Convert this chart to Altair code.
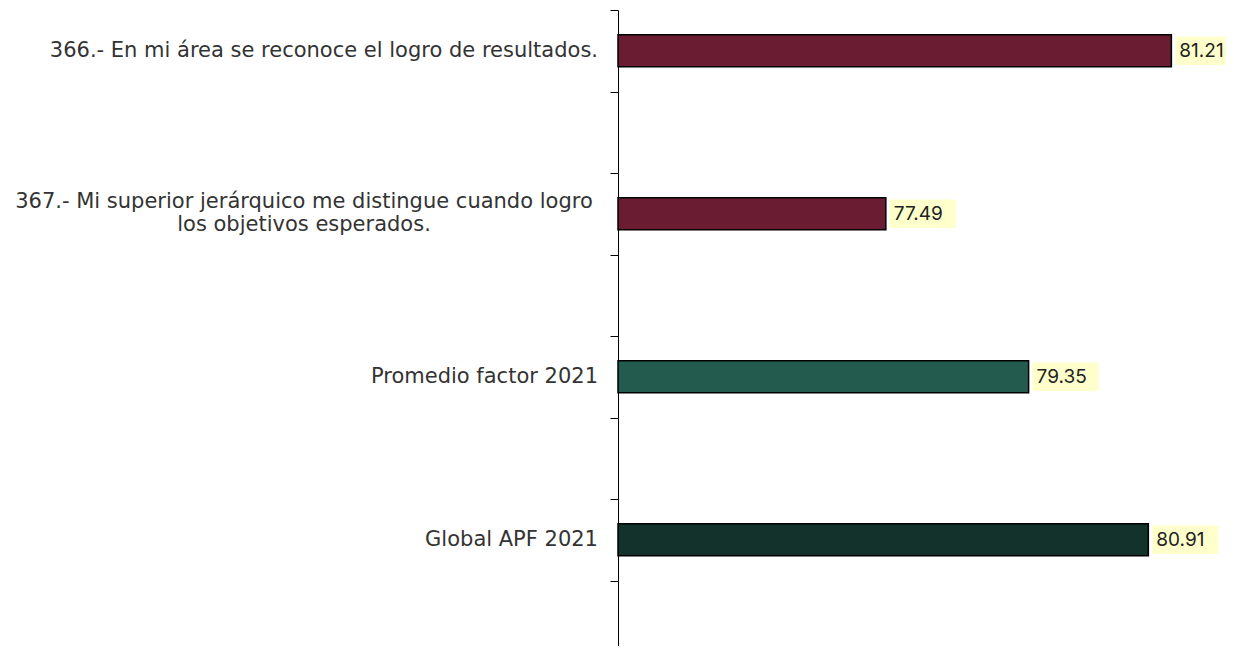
import altair as alt
import pandas as pd

# ---- data ----
keys = ["q366", "q367", "prom", "glob"]
line1 = [
    "366.- En mi área se reconoce el logro de resultados.",
    "367.- Mi superior jerárquico me distingue cuando logro",
    "Promedio factor 2021",
    "Global APF 2021",
]
line2 = ["", "los objetivos esperados.", "", ""]
values = [81.21, 77.49, 79.35, 80.91]
colors = ["#691C32", "#691C32", "#235B4E", "#13322B"]
spacers = ["s1", "s2", "s3", "s4"]
x_min, x_max = 74, 82

domain = []
for k, s in zip(keys, spacers):
    domain += [k, s]

df = pd.DataFrame({
    "key": keys,
    "line1": line1,
    "line2": line2,
    "full": [a + ("\n" + b if b else "") for a, b in zip(line1, line2)],
    "value": values,
    "color": colors,
})

FONT = "DejaVu Sans"
FS = 21
VFONT = "Inter"
VFS = 19

base = alt.Chart(df).encode(
    y=alt.Y(
        "key:N",
        scale=alt.Scale(domain=domain, paddingInner=0, paddingOuter=0, range=[0, 652]),
        axis=alt.Axis(labels=False, title=None, tickBand="extent", tickSize=8,
                      tickColor="black", domainColor="black", tickWidth=1, domainWidth=1),
    )
)

xscale = alt.Scale(domain=[x_min, x_max], range=[0, 614])

bars = base.mark_bar(size=32, stroke="black", strokeWidth=1.5).encode(
    x=alt.X("value:Q", scale=xscale, axis=None),
    x2=alt.datum(x_min),
    color=alt.Color("color:N", scale=None),
)

boxes = base.mark_point(
    shape="M0,-0.43 L2,-0.43 L2,0.43 L0,0.43 Z",
    filled=True, color="#FFFFCC", opacity=1, size=66 * 66, strokeWidth=0, xOffset=4,
).encode(x=alt.X("value:Q", scale=xscale))

vals = base.mark_text(align="left", baseline="middle", dx=8, fontSize=VFS, font=VFONT,
                      color="#222222").encode(
    x=alt.X("value:Q", scale=xscale),
    text=alt.Text("value:Q", format=".2f"),
)

labels_single = base.transform_filter("datum.line2 == ''").mark_text(
    align="right", baseline="middle", fontSize=FS, font=FONT, color="#333333",
).encode(x=alt.value(-20), text="line1:N")

labels_multi = base.transform_filter("datum.line2 != ''").mark_text(
    align="center", baseline="middle", fontSize=FS, font=FONT, color="#333333",
    lineBreak="\n", lineHeight=23, dy=-12,
).encode(x=alt.value(-314), text="full:N")

chart = alt.layer(bars, boxes, vals, labels_single, labels_multi).properties(
    width=608, height=636,
    padding={"left": 610, "top": 2, "right": 0, "bottom": 0},
    autosize="none",
    background="white",
).configure_view(stroke=None)

chart.save("out.html", embed_options={"renderer": "svg", "actions": False})
